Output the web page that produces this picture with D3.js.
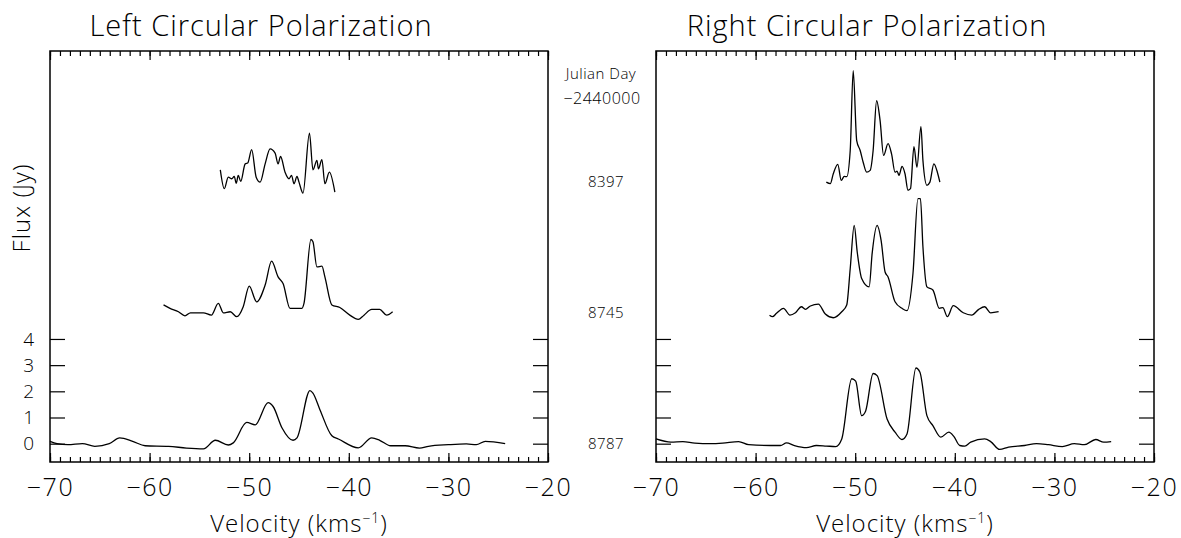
<!DOCTYPE html>
<html>
<head>
<meta charset="utf-8">
<script src="https://cdn.jsdelivr.net/npm/d3@7"></script>
<style>
  body { margin: 0; background: #fff; }
  text { font-family: "Open Sans", "DejaVu Sans", sans-serif; font-weight: 300; fill: #000; }
</style>
</head>
<body>
<svg id="chart"></svg>
<script>
// spectra: [velocity km/s, flux Jy]
var lcp8397 = [[-52.9,0.46],[-52.5,-0.26],[-52.1,0.18],[-51.75,0.12],[-51.5,0.21],[-51.3,-0.05],[-51.1,0.25],[-50.85,0.02],[-50.4,0.69],[-50.15,0.72],[-49.75,1.23],[-49.3,0.18],[-48.9,-0.01],[-48.4,0.69],[-47.9,1.26],[-47.4,1.1],[-47.1,0.69],[-46.85,0.97],[-46.4,0.37],[-46.0,0.12],[-45.75,0.25],[-45.5,-0.07],[-45.2,0.21],[-45.0,-0.01],[-44.6,-0.43],[-43.95,1.86],[-43.6,0.46],[-43.2,0.82],[-43.05,0.5],[-42.7,0.85],[-42.4,-0.07],[-41.95,0.37],[-41.4,-0.39]];
var lcp8745 = [[-58.6,0.3],[-57.95,0.17],[-57.1,0.04],[-56.45,-0.12],[-55.9,0.0],[-54.6,0.0],[-53.8,-0.09],[-53.1,0.36],[-52.6,0.0],[-51.9,0.04],[-51.25,-0.15],[-50.6,0.23],[-50.0,1.02],[-49.25,0.42],[-48.4,1.06],[-47.75,1.97],[-47.1,1.37],[-46.6,1.12],[-45.9,0.17],[-44.7,0.17],[-44.5,0.36],[-43.8,2.8],[-43.6,2.71],[-43.2,1.75],[-42.7,1.78],[-42.4,1.37],[-41.7,0.3],[-40.9,0.2],[-39.9,-0.09],[-39.05,-0.25],[-38.5,-0.1],[-37.7,0.13],[-36.9,0.13],[-36.2,-0.09],[-35.6,0.04]];
var lcp8787 = [[-70,0.09],[-69.3,0.0],[-68.2,-0.04],[-66.75,0.0],[-65.5,-0.1],[-64.05,0.0],[-63.0,0.22],[-61.7,0.09],[-60.45,-0.08],[-58.1,-0.1],[-56.3,-0.17],[-54.6,-0.2],[-53.4,0.13],[-52.1,-0.05],[-51.6,0.03],[-50.25,0.81],[-49.4,0.72],[-48.1,1.57],[-47.6,1.42],[-46.7,0.6],[-45.6,0.13],[-45.2,0.22],[-43.9,2.03],[-43.6,1.93],[-42.9,1.3],[-41.7,0.3],[-41.05,0.18],[-39.05,-0.16],[-37.7,0.22],[-36.9,0.13],[-35.8,-0.08],[-34.35,-0.08],[-32.9,-0.17],[-32.0,-0.1],[-30.0,-0.04],[-28.2,-0.01],[-27.2,-0.04],[-26.3,0.09],[-24.3,0.0]];

var rcp8397 = [[-52.9,-0.01],[-52.5,-0.07],[-52.2,0.31],[-51.75,0.67],[-51.4,0.06],[-51.1,0.21],[-50.85,0.2],[-50.5,1.2],[-50.2,4.25],[-49.85,1.58],[-49.5,1.2],[-49.2,0.75],[-48.85,0.37],[-48.5,0.44],[-48.2,1.2],[-47.85,3.1],[-47.5,2.34],[-47.15,1.01],[-46.7,1.46],[-46.35,1.07],[-46.0,0.37],[-45.8,0.41],[-45.6,0.25],[-45.3,0.59],[-45.0,0.31],[-44.7,-0.32],[-44.45,-0.26],[-44.1,1.35],[-43.8,0.56],[-43.4,2.11],[-43.2,0.82],[-42.8,-0.13],[-42.5,-0.01],[-42.1,0.69],[-41.75,0.37],[-41.5,-0.01]];
var rcp8745 = [[-58.6,-0.09],[-58.3,-0.15],[-57.9,-0.02],[-57.2,0.17],[-56.55,-0.09],[-56.0,0.0],[-55.4,0.23],[-55.0,0.13],[-54.5,0.26],[-53.7,0.33],[-53.0,-0.05],[-52.2,-0.19],[-51.35,0.04],[-50.85,0.3],[-50.5,1.69],[-50.1,3.34],[-49.8,2.33],[-49.35,1.31],[-48.6,0.99],[-48.3,2.26],[-47.8,3.34],[-47.4,2.77],[-47.0,1.56],[-46.7,1.37],[-46.0,0.42],[-45.3,0.17],[-44.8,0.08],[-44.2,1.5],[-43.7,4.36],[-43.45,4.36],[-43.2,2.52],[-42.8,0.99],[-42.2,0.87],[-41.55,0.17],[-41.2,0.2],[-40.75,-0.15],[-40.15,0.27],[-39.15,0.0],[-38.3,-0.09],[-37.6,0.13],[-37.0,0.23],[-36.4,0.0],[-35.6,0.04]];
var rcp8787 = [[-70,0.18],[-68.5,0.06],[-67.3,0.08],[-66.1,0.02],[-64.5,0.0],[-63.3,0.02],[-61.7,0.08],[-60.7,-0.04],[-58.5,-0.07],[-57.5,-0.07],[-56.9,0.03],[-56.1,-0.07],[-54.9,-0.15],[-53.9,-0.07],[-52.9,-0.09],[-51.95,-0.11],[-51.35,0.18],[-50.35,2.48],[-49.95,2.39],[-49.35,1.07],[-48.95,1.25],[-48.2,2.68],[-47.8,2.6],[-46.8,0.94],[-46.0,0.44],[-45.3,0.16],[-44.8,0.37],[-43.9,2.89],[-43.5,2.73],[-42.8,1.07],[-42.2,0.69],[-41.4,0.25],[-40.6,0.44],[-40.1,0.28],[-39.5,-0.07],[-39.0,-0.09],[-38.4,0.06],[-37.0,0.18],[-36.4,0.08],[-35.5,-0.22],[-34.6,-0.13],[-33.0,-0.07],[-31.8,0.0],[-30.6,-0.04],[-29.2,-0.11],[-28.0,0.0],[-27.0,-0.04],[-25.85,0.16],[-25.05,0.06],[-24.3,0.08]];

var epochs = ["8397", "8745", "8787"];
var epochOffsets = [10, 5, 0];
var panelTitles = ["Left Circular Polarization", "Right Circular Polarization"];
var xTicks = [-70, -60, -50, -40, -30, -20];
var yTicks = [0, 1, 2, 3, 4];

var panelSeries = [[lcp8397, lcp8745, lcp8787], [rcp8397, rcp8745, rcp8787]];

(function() {
  var width = 1181, height = 538;
  var svg = d3.select('#chart').attr('width', width).attr('height', height);

  var yTop = 51, yBottom = 462;
  var panelLeft = [50, 656], panelW = 498;

  var y = d3.scaleLinear().domain([-0.7, 15]).range([yBottom, yTop]);

  panelSeries.forEach(function(series, p) {
    var x = d3.scaleLinear().domain([-70, -20]).range([panelLeft[p], panelLeft[p] + panelW]);
    var g = svg.append('g');

    // minor + major ticks, bottom and top
    g.append('g').attr('transform', 'translate(0,' + yBottom + ')')
      .call(d3.axisBottom(x).tickValues(d3.range(-70, -19, 1)).tickSize(-5).tickSizeOuter(0).tickFormat(''));
    g.append('g').attr('transform', 'translate(0,' + yBottom + ')')
      .call(d3.axisBottom(x).tickValues(xTicks).tickSize(-9).tickSizeOuter(0).tickPadding(16).tickFormat(d3.format('d')))
      .selectAll('text').style('font-size', '25px').style('letter-spacing', '1.5px');
    g.append('g').attr('transform', 'translate(0,' + yTop + ')')
      .call(d3.axisTop(x).tickValues(d3.range(-70, -19, 1)).tickSize(-5).tickSizeOuter(0).tickFormat(''));
    g.append('g').attr('transform', 'translate(0,' + yTop + ')')
      .call(d3.axisTop(x).tickValues(xTicks).tickSize(-9).tickSizeOuter(0).tickFormat(''));

    var yl = g.append('g').attr('transform', 'translate(' + panelLeft[p] + ',0)')
      .call(d3.axisLeft(y).tickValues(yTicks).tickSize(-15).tickSizeOuter(0).tickPadding(16)
        .tickFormat(p === 0 ? d3.format('d') : ''));
    yl.selectAll('text').style('font-size', '19px');
    g.append('g').attr('transform', 'translate(' + (panelLeft[p] + panelW) + ',0)')
      .call(d3.axisRight(y).tickValues(yTicks).tickSize(-15).tickSizeOuter(0).tickFormat(''));

    g.selectAll('.domain').remove();
    g.selectAll('.tick line').attr('stroke', '#000').attr('stroke-width', 1.2);

    g.append('rect')
      .attr('x', panelLeft[p]).attr('y', yTop)
      .attr('width', panelW).attr('height', yBottom - yTop)
      .attr('fill', 'none').attr('stroke', '#000').attr('stroke-width', 1.5);

    series.forEach(function(d, i) {
      var line = d3.line()
        .x(function(v) { return x(v[0]); })
        .y(function(v) { return y(v[1] + epochOffsets[i]); })
        .curve(d3.curveMonotoneX);
      g.append('path').datum(d)
        .attr('d', line)
        .attr('fill', 'none')
        .attr('stroke', '#000')
        .attr('stroke-width', 1.3);
    });

    // titles sit a little left of the panel centre in the original
    svg.append('text')
      .attr('x', panelLeft[p] + panelW / 2 - 38).attr('y', 36)
      .attr('text-anchor', 'middle')
      .style('font-size', '29px').style('letter-spacing', '1px')
      .text(panelTitles[p]);

    var xl = svg.append('text')
      .attr('x', panelLeft[p] + panelW / 2).attr('y', 532)
      .attr('text-anchor', 'middle')
      .style('font-size', '24px').style('letter-spacing', '1px');
    xl.append('tspan').text('Velocity (kms');
    xl.append('tspan').attr('dy', -9).style('font-size', '14px').text('−1');
    xl.append('tspan').attr('dy', 9).text(')');
  });

  svg.append('text')
    .attr('transform', 'translate(30,208) rotate(-90)')
    .attr('text-anchor', 'middle')
    .style('font-size', '24px').style('letter-spacing', '1px')
    .text('Flux (Jy)');

  // Julian day labels between the panels
  svg.append('text').attr('x', 601).attr('y', 79).attr('text-anchor', 'middle')
    .style('font-size', '15px').style('letter-spacing', '0.5px').text('Julian Day');
  svg.append('text').attr('x', 602).attr('y', 104).attr('text-anchor', 'middle')
    .style('font-size', '16px').style('letter-spacing', '0.5px').text('−2440000');
  svg.selectAll('.epoch').data(epochs).enter().append('text')
    .attr('class', 'epoch')
    .attr('x', 606)
    .attr('y', function(d, i) { return y(epochOffsets[i]) + 5; })
    .attr('text-anchor', 'middle')
    .style('font-size', '15px').style('letter-spacing', '0.5px')
    .text(function(d) { return d; });
})();
</script>
</body>
</html>
